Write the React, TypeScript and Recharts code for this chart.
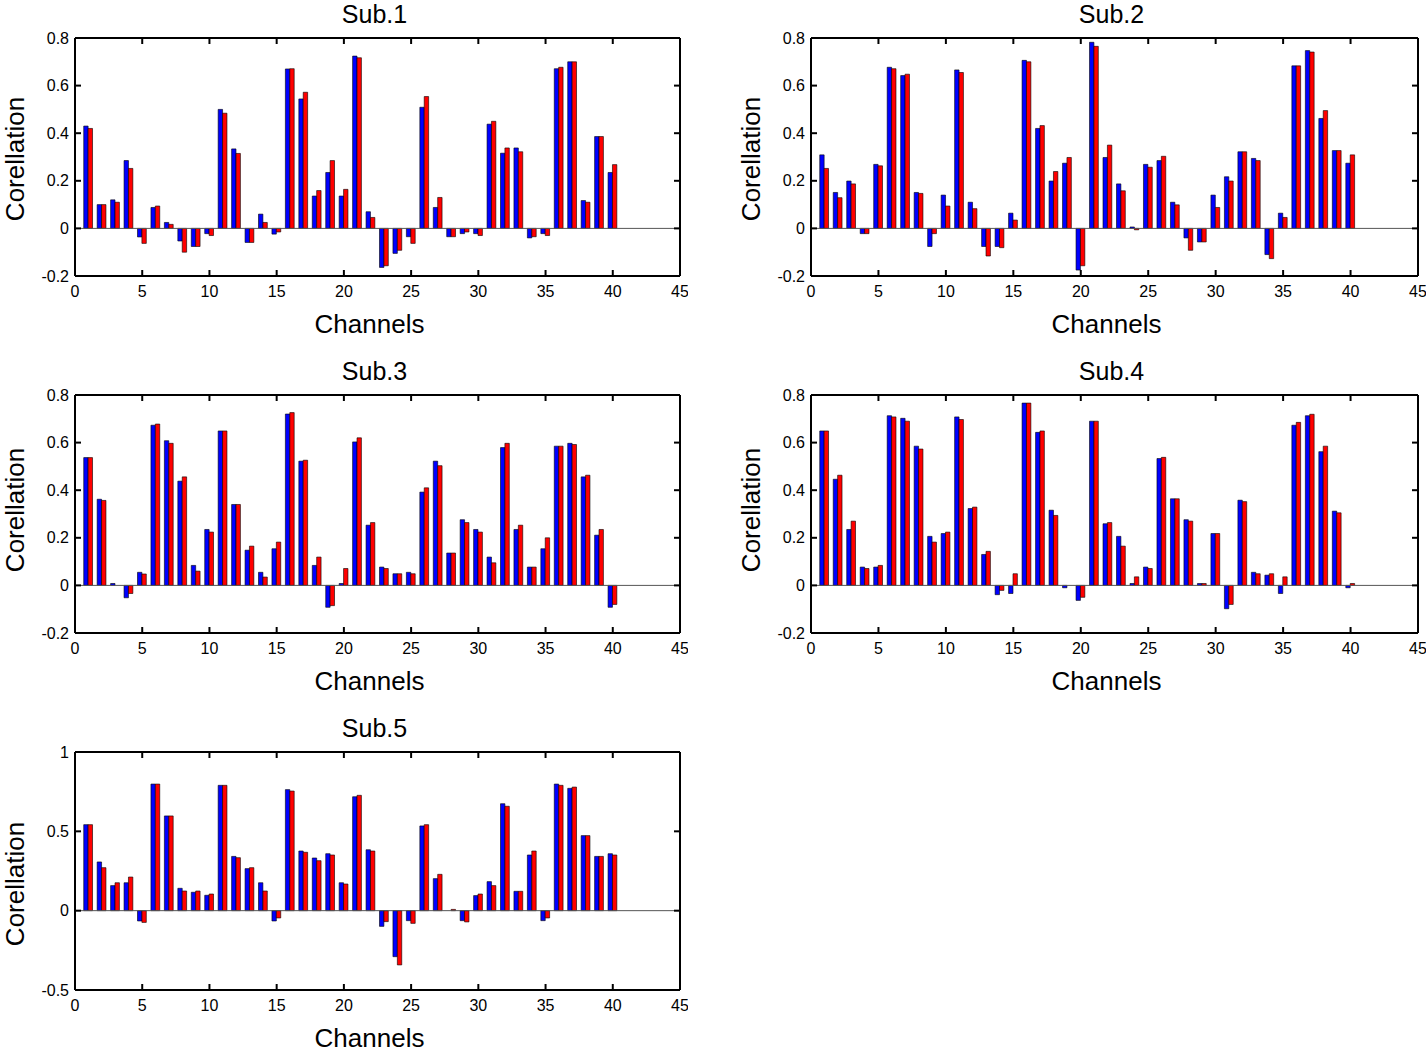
import { BarChart, Bar, XAxis, YAxis, ReferenceLine } from 'recharts';

const channels = [
  1, 2, 3, 4, 5, 6, 7, 8, 9, 10, 11, 12, 13, 14, 15, 16, 17, 18, 19, 20,
  21, 22, 23, 24, 25, 26, 27, 28, 29, 30, 31, 32, 33, 34, 35, 36, 37, 38, 39, 40,
];

const xTicks = [0, 5, 10, 15, 20, 25, 30, 35, 40, 45];
const yTicksSmall = [-0.2, 0, 0.2, 0.4, 0.6, 0.8];
const yTicksWide = [-0.5, 0, 0.5, 1];

const sub1Blue = [0.43, 0.10, 0.12, 0.285, -0.036, 0.088, 0.025, -0.053, -0.076, -0.022, 0.50, 0.334, -0.059, 0.06, -0.024, 0.67, 0.544, 0.136, 0.235, 0.136, 0.724, 0.07, -0.164, -0.105, -0.035, 0.509, 0.088, -0.035, -0.022, -0.022, 0.438, 0.316, 0.338, -0.04, -0.022, 0.671, 0.70, 0.117, 0.386, 0.235];
const sub1Red = [0.42, 0.10, 0.11, 0.252, -0.063, 0.094, 0.017, -0.10, -0.076, -0.03, 0.484, 0.315, -0.059, 0.025, -0.015, 0.671, 0.572, 0.159, 0.285, 0.164, 0.717, 0.046, -0.157, -0.092, -0.063, 0.554, 0.13, -0.035, -0.015, -0.03, 0.45, 0.338, 0.322, -0.035, -0.03, 0.677, 0.70, 0.11, 0.386, 0.268];

const sub2Blue = [0.309, 0.151, 0.199, -0.022, 0.269, 0.677, 0.642, 0.151, -0.076, 0.14, 0.666, 0.11, -0.076, -0.076, 0.064, 0.706, 0.42, 0.199, 0.274, -0.175, 0.782, 0.298, 0.187, 0.006, 0.269, 0.285, 0.11, -0.04, -0.057, 0.14, 0.217, 0.322, 0.294, -0.11, 0.064, 0.683, 0.747, 0.462, 0.327, 0.274];
const sub2Red = [0.252, 0.129, 0.187, -0.022, 0.263, 0.671, 0.648, 0.147, -0.022, 0.094, 0.655, 0.083, -0.116, -0.081, 0.035, 0.70, 0.432, 0.239, 0.298, -0.157, 0.765, 0.35, 0.158, -0.006, 0.257, 0.303, 0.099, -0.092, -0.057, 0.088, 0.199, 0.322, 0.285, -0.127, 0.046, 0.683, 0.741, 0.495, 0.327, 0.309];

const sub3Blue = [0.537, 0.362, 0.008, -0.052, 0.055, 0.673, 0.608, 0.438, 0.084, 0.235, 0.649, 0.34, 0.148, 0.055, 0.154, 0.72, 0.522, 0.084, -0.092, 0.008, 0.603, 0.253, 0.077, 0.049, 0.055, 0.392, 0.522, 0.136, 0.276, 0.235, 0.119, 0.579, 0.235, 0.077, 0.154, 0.585, 0.597, 0.456, 0.211, -0.092];
const sub3Red = [0.537, 0.357, 0, -0.034, 0.048, 0.678, 0.597, 0.456, 0.06, 0.224, 0.649, 0.34, 0.165, 0.035, 0.182, 0.726, 0.526, 0.119, -0.085, 0.071, 0.62, 0.264, 0.071, 0.049, 0.049, 0.41, 0.503, 0.136, 0.264, 0.224, 0.095, 0.597, 0.253, 0.077, 0.2, 0.585, 0.592, 0.463, 0.235, -0.08];

const sub4Blue = [0.649, 0.446, 0.235, 0.077, 0.077, 0.713, 0.702, 0.585, 0.206, 0.218, 0.708, 0.323, 0.13, -0.039, -0.034, 0.766, 0.643, 0.316, -0.01, -0.063, 0.69, 0.259, 0.206, 0.008, 0.077, 0.533, 0.364, 0.276, 0.008, 0.218, -0.098, 0.358, 0.055, 0.043, -0.034, 0.673, 0.713, 0.562, 0.312, -0.01];
const sub4Red = [0.649, 0.463, 0.27, 0.071, 0.084, 0.708, 0.69, 0.573, 0.182, 0.224, 0.697, 0.329, 0.143, -0.021, 0.049, 0.766, 0.649, 0.294, 0, -0.05, 0.69, 0.264, 0.165, 0.036, 0.071, 0.538, 0.364, 0.27, 0.008, 0.218, -0.08, 0.352, 0.049, 0.049, 0.036, 0.685, 0.719, 0.585, 0.305, 0.008];

const sub5Blue = [0.542, 0.307, 0.158, 0.176, -0.065, 0.798, 0.597, 0.141, 0.116, 0.097, 0.79, 0.342, 0.265, 0.176, -0.065, 0.763, 0.376, 0.332, 0.359, 0.176, 0.718, 0.384, -0.099, -0.29, -0.063, 0.534, 0.202, 0, -0.063, 0.095, 0.183, 0.674, 0.122, 0.351, -0.063, 0.798, 0.771, 0.473, 0.342, 0.359];
const sub5Red = [0.542, 0.271, 0.176, 0.212, -0.074, 0.798, 0.597, 0.124, 0.124, 0.105, 0.79, 0.334, 0.271, 0.124, -0.046, 0.754, 0.368, 0.315, 0.351, 0.168, 0.727, 0.376, -0.069, -0.342, -0.08, 0.542, 0.229, 0.008, -0.071, 0.105, 0.158, 0.658, 0.122, 0.376, -0.046, 0.79, 0.779, 0.473, 0.342, 0.351];

// plot-area placement of each subplot (pixels on the page)
const panels = [
  { title: 'Sub.1', blue: sub1Blue, red: sub1Red, yDomain: [-0.2, 0.8], yTicks: yTicksSmall, plotLeft: 75, plotRight: 680, plotTop: 38, plotBottom: 276, labelY: 159 },
  { title: 'Sub.2', blue: sub2Blue, red: sub2Red, yDomain: [-0.2, 0.8], yTicks: yTicksSmall, plotLeft: 811, plotRight: 1418, plotTop: 38, plotBottom: 276, labelY: 159 },
  { title: 'Sub.3', blue: sub3Blue, red: sub3Red, yDomain: [-0.2, 0.8], yTicks: yTicksSmall, plotLeft: 75, plotRight: 680, plotTop: 395, plotBottom: 633, labelY: 510 },
  { title: 'Sub.4', blue: sub4Blue, red: sub4Red, yDomain: [-0.2, 0.8], yTicks: yTicksSmall, plotLeft: 811, plotRight: 1418, plotTop: 395, plotBottom: 633, labelY: 510 },
  { title: 'Sub.5', blue: sub5Blue, red: sub5Red, yDomain: [-0.5, 1], yTicks: yTicksWide, plotLeft: 75, plotRight: 680, plotTop: 752, plotBottom: 990, labelY: 884 },
];

const Y_AXIS_W = 75;
const TOP_M = 10;
const X_AXIS_H = 70;
const RIGHT_M = 8;
const TICK_LEN = 6;

const lineStyle = { stroke: '#000', strokeWidth: 2 };

// bottom tick: inward mark at bottom and top of the box, label below
function XTick(props: any) {
  const { x, y, payload, plotH } = props;
  return (
    <g>
      <line x1={x} y1={y} x2={x} y2={y - TICK_LEN} stroke="#000" strokeWidth={2} />
      <line x1={x} y1={y - plotH} x2={x} y2={y - plotH + TICK_LEN} stroke="#000" strokeWidth={2} />
      <text x={x} y={y + 15} textAnchor="middle" dominantBaseline="central" fontSize={16} fill="#000">
        {payload.value}
      </text>
    </g>
  );
}

// left tick: inward mark at left and right of the box, label to the left
function YTick(props: any) {
  const { x, y, payload, plotW } = props;
  return (
    <g>
      <line x1={x} y1={y} x2={x + TICK_LEN} y2={y} stroke="#000" strokeWidth={2} />
      <line x1={x + plotW} y1={y} x2={x + plotW - TICK_LEN} y2={y} stroke="#000" strokeWidth={2} />
      <text x={x - 6} y={y} textAnchor="end" dominantBaseline="central" fontSize={16} fill="#000">
        {payload.value}
      </text>
    </g>
  );
}

function Panel({ p }: { p: typeof panels[number] }) {
  const data = channels.map((ch, i) => ({ ch, blue: p.blue[i], red: p.red[i] }));
  const left = p.plotLeft - Y_AXIS_W;
  const top = p.plotTop - TOP_M;
  const width = p.plotRight - left + RIGHT_M;
  const height = TOP_M + (p.plotBottom - p.plotTop) + X_AXIS_H;
  const plotW = p.plotRight - p.plotLeft;
  const plotH = p.plotBottom - p.plotTop;
  const midX = (p.plotLeft + p.plotRight) / 2;

  return (
    <>
      <div style={{ position: 'absolute', left: midX - 3, top: p.plotTop - 24, transform: 'translate(-50%, -50%)', fontSize: 25, whiteSpace: 'nowrap' }}>
        {p.title}
      </div>
      <div style={{ position: 'absolute', left: p.plotLeft - 60, top: p.labelY, transform: 'translate(-50%, -50%) rotate(-90deg)', fontSize: 26, whiteSpace: 'nowrap' }}>
        Corellation
      </div>
      <div style={{ position: 'absolute', left: midX - 8, top: p.plotBottom + 48, transform: 'translate(-50%, -50%)', fontSize: 26, whiteSpace: 'nowrap' }}>
        Channels
      </div>
      <div style={{ position: 'absolute', left, top }}>
        <BarChart
          width={width}
          height={height}
          data={data}
          margin={{ top: TOP_M, right: RIGHT_M, left: 0, bottom: 0 }}
          barGap={0}
        >
          <XAxis
            xAxisId="b"
            dataKey="ch"
            type="number"
            domain={[0, 45]}
            ticks={xTicks}
            interval={0}
            allowDataOverflow
            height={X_AXIS_H}
            tickSize={0}
            tickMargin={0}
            axisLine={lineStyle}
            tickLine={false}
            tick={(t: any) => <XTick {...t} plotH={plotH} />}
          />
          <YAxis
            yAxisId="l"
            type="number"
            domain={p.yDomain}
            ticks={p.yTicks}
            interval={0}
            allowDataOverflow
            width={Y_AXIS_W}
            tickSize={0}
            tickMargin={0}
            axisLine={lineStyle}
            tickLine={false}
            tick={(t: any) => <YTick {...t} plotW={plotW} />}
          />
          <ReferenceLine xAxisId="b" yAxisId="l" y={0} stroke="#555" strokeWidth={1} />
          <Bar xAxisId="b" yAxisId="l" dataKey="blue" fill="#0000ff" stroke="#000" strokeWidth={0.6} barSize={4.4} isAnimationActive={false} />
          <Bar xAxisId="b" yAxisId="l" dataKey="red" fill="#ff0000" stroke="#000" strokeWidth={0.6} barSize={4.4} isAnimationActive={false} />
          <ReferenceLine xAxisId="b" yAxisId="l" y={p.yDomain[1]} stroke="#000" strokeWidth={2} />
          <ReferenceLine xAxisId="b" yAxisId="l" x={45} stroke="#000" strokeWidth={2} />
        </BarChart>
      </div>
    </>
  );
}

export default function App() {
  return (
    <div
      style={{
        position: 'absolute',
        left: 0,
        top: 0,
        width: 1427,
        height: 1057,
        overflow: 'hidden',
        background: '#fff',
        fontFamily: 'Arial, "Liberation Sans", sans-serif',
        color: '#000',
      }}
    >
      {panels.map((p) => (
        <Panel key={p.title} p={p} />
      ))}
    </div>
  );
}
